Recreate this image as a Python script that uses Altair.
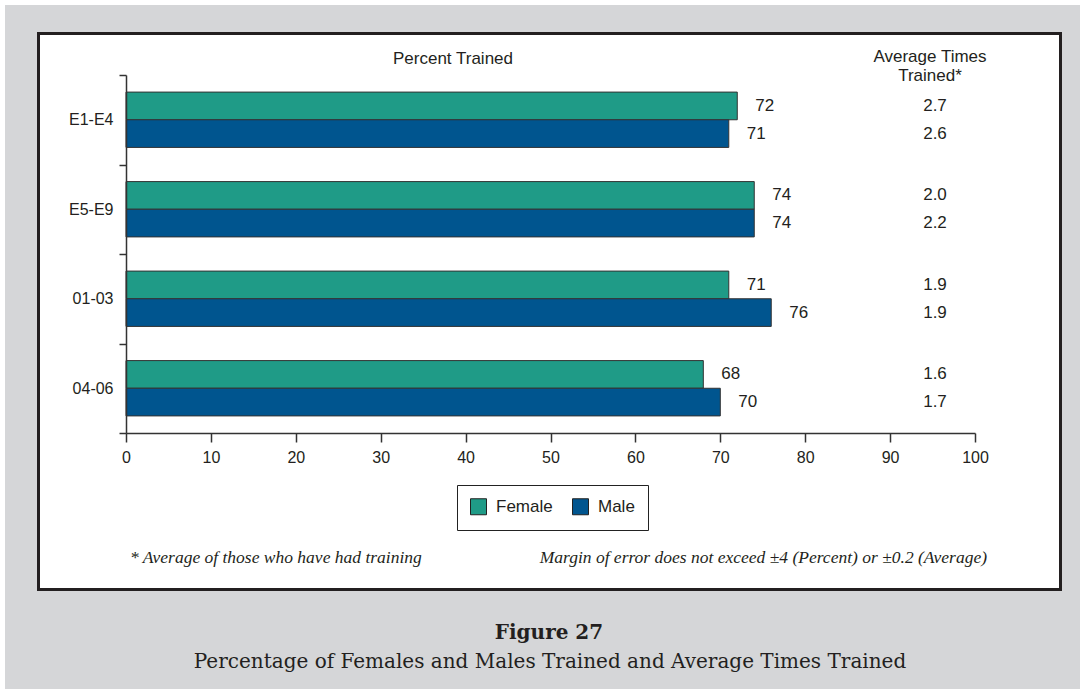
import altair as alt
import pandas as pd

# Pay-grade groups, top to bottom
groups = ["E1-E4", "E5-E9", "01-03", "04-06"]
genders = ["Female", "Male"]

# Percent trained
female_pct = [72, 74, 71, 68]
male_pct = [71, 74, 76, 70]

# Average times trained (of those who have had training)
female_avg = ["2.7", "2.0", "1.9", "1.6"]
male_avg = ["2.6", "2.2", "1.9", "1.7"]

x_ticks = [0, 10, 20, 30, 40, 50, 60, 70, 80, 90, 100]

colors = ["#1f9b87", "#00558f"]
ink = "#231f20"
sans = "Liberation Sans"
serif = "Liberation Serif"
wide_serif = "DejaVu Serif"

rows = []
for i, g in enumerate(groups):
    rows.append({"group": g, "gender": "Female", "pct": female_pct[i], "avg": female_avg[i]})
    rows.append({"group": g, "gender": "Male", "pct": male_pct[i], "avg": male_avg[i]})
df = pd.DataFrame(rows)
one = pd.DataFrame({"k": [0]})

W, H = 849, 358
PAD = {"left": 126, "top": 75, "right": 105, "bottom": 256}

base = alt.Chart(df)

y_enc = alt.Y(
    "group:N",
    sort=groups,
    scale=alt.Scale(paddingInner=0, paddingOuter=0),
    axis=alt.Axis(
        title=None, tickBand="extent", tickSize=7, tickWidth=1.5, tickColor="#333",
        domainColor="#333", domainWidth=1.5, labelFontSize=16, labelFont=sans,
        labelColor=ink, labelPadding=6, zindex=2,
    ),
)
yoff = alt.YOffset("gender:N", sort=genders,
                   scale=alt.Scale(paddingInner=0, paddingOuter=0.618))
x_enc = alt.X(
    "pct:Q",
    scale=alt.Scale(domain=[0, 100], nice=False),
    axis=alt.Axis(
        title=None, values=x_ticks, grid=False, tickSize=9, tickWidth=1.5,
        tickColor="#333", domainColor="#333", domainWidth=1.5, labelFontSize=16,
        labelFont=sans, labelColor=ink, labelPadding=7, labelFlush=False, zindex=2,
    ),
)

# Panel backdrop and framed white card
backdrop = alt.Chart(one).mark_rect(fill="#d5d6d8").encode(
    x=alt.value(-121), x2=alt.value(954), y=alt.value(-70), y2=alt.value(614)
)
card = alt.Chart(one).mark_rect(fill="white", stroke=ink, strokeWidth=3).encode(
    x=alt.value(-87.5), x2=alt.value(934.5), y=alt.value(-41.5), y2=alt.value(514.5)
)

bars = base.mark_bar(stroke="#333", strokeWidth=1).encode(
    x=x_enc,
    y=y_enc,
    yOffset=yoff,
    color=alt.Color(
        "gender:N",
        sort=genders,
        scale=alt.Scale(domain=genders, range=colors),
        legend=alt.Legend(
            title=None, orient="none", legendX=331, legendY=410, direction="horizontal",
            symbolType="square", symbolSize=256, symbolStrokeColor="#222",
            symbolStrokeWidth=1, symbolOpacity=1, labelFontSize=17, labelFont=sans,
            labelColor=ink, labelOffset=9, columnPadding=17, padding=13,
            strokeColor="#222", fillColor="white", zindex=3,
        ),
    ),
)

pct_labels = base.mark_text(align="left", baseline="middle", dx=18, fontSize=17,
                            font=sans, color=ink).encode(
    x="pct:Q", y=alt.Y("group:N", sort=groups), yOffset=alt.YOffset("gender:N", sort=genders),
    text="pct:Q",
)

avg_labels = base.mark_text(align="center", baseline="middle", fontSize=17,
                            font=sans, color=ink).encode(
    x=alt.value(809), y=alt.Y("group:N", sort=groups),
    yOffset=alt.YOffset("gender:N", sort=genders), text="avg:N",
)


def note(text, x, y, align="center", size=16, font=sans, style="normal", weight="normal"):
    return alt.Chart(one).mark_text(
        text=text, align=align, baseline="middle", fontSize=size, font=font,
        fontStyle=style, fontWeight=weight, color=ink,
    ).encode(x=alt.value(x), y=alt.value(y))


headers = [
    note("Percent Trained", 327, -16, size=17),
    note("Average Times", 804, -18, size=17),
    note("Trained*", 804, 1, size=17),
]
footnotes = [
    note("* Average of those who have had training", 4, 483, align="left",
         size=17.5, font=serif, style="italic"),
    note("Margin of error does not exceed ±4 (Percent) or ±0.2 (Average)", 861, 483,
         align="right", size=17.5, font=serif, style="italic"),
]
caption = [
    note("Figure 27", 423, 558, size=20, font=wide_serif, weight="bold"),
    note("Percentage of Females and Males Trained and Average Times Trained", 424, 587,
         size=20, font=wide_serif),
]

chart = alt.layer(
    backdrop, card, bars, pct_labels, avg_labels, *headers, *footnotes, *caption
).properties(
    width=W, height=H, padding=PAD, background="white",
    autosize=alt.AutoSizeParams(type="none"),
).configure_view(stroke=None)

chart.save("out.html", embed_options={"renderer": "svg", "actions": False})
